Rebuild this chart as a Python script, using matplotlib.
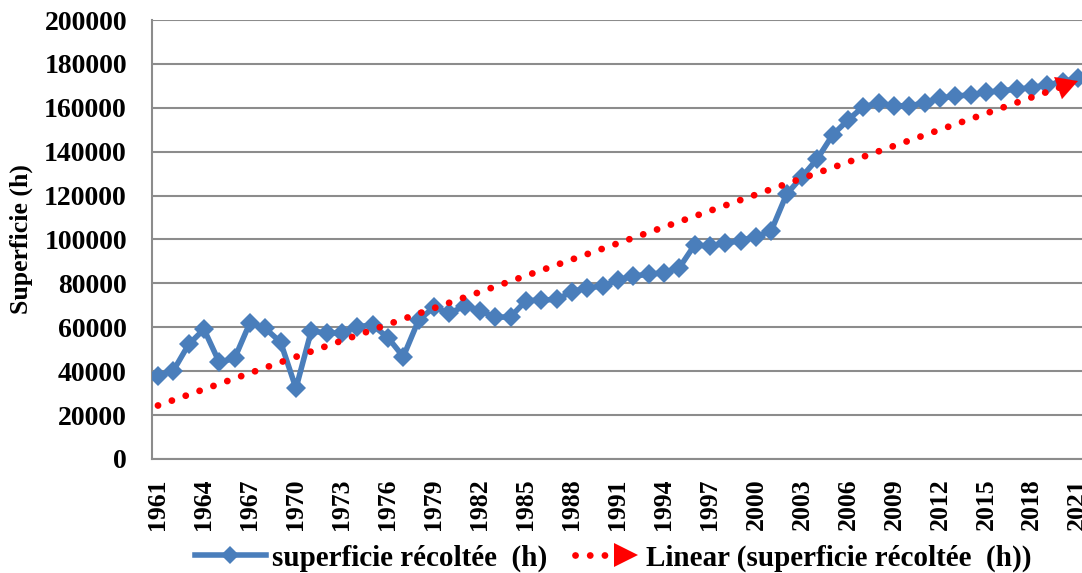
import numpy as np
import matplotlib.pyplot as plt
from matplotlib.lines import Line2D
from matplotlib.legend_handler import HandlerBase

years = list(range(1961, 2022))
superficie = [
    37800, 40200, 52200, 59100, 44000, 45900, 62100, 59500, 53200, 32200,
    58400, 57300, 57500, 60300, 61000, 55300, 46600, 63300, 69100, 66400,
    69700, 67600, 64500, 64800, 72100, 72400, 72700, 76200, 78000, 78800,
    81500, 83400, 84100, 84900, 87100, 97500, 97000, 98300, 99500, 101300,
    104000, 120600, 128600, 136700, 147600, 154400, 160500, 162000, 161000, 160800,
    162300, 164300, 165400, 165800, 167000, 167800, 168400, 169200, 170400, 171900,
    173400,
]
tick_years = list(range(1961, 2022, 3))
y_ticks = list(range(0, 200001, 20000))

blue = '#4a7ebb'
grid_gray = '#8c8c8c'
dot_style = (0, (0.01, 2.15))

plt.rcParams['font.family'] = ['Liberation Serif', 'DejaVu Serif']
plt.rcParams['font.weight'] = 'bold'

fig = plt.figure(figsize=(10.82, 5.73), dpi=100)
ax = fig.add_axes([152 / 1082, 114 / 573, 932 / 1082, 439 / 573])

ax.plot(years, superficie, color=blue, lw=4, marker='D', markersize=10.5,
        markeredgewidth=0, zorder=3)

# linear trend (least squares on the series)
slope, intercept = np.polyfit(years, superficie, 1)
x0, x1 = years[0], years[-1]
x_base = x1 - 1.0
ax.plot([x0, x_base], [slope * x0 + intercept, slope * x_base + intercept],
        color='red', lw=4.9, linestyle=dot_style,
        dash_capstyle='round', zorder=4)
ax.annotate('', xy=(x1, slope * x1 + intercept),
            xytext=(x_base, slope * x_base + intercept),
            arrowprops=dict(arrowstyle='-|>,head_length=0.75,head_width=0.42',
                            mutation_scale=20, color='red', lw=0.1,
                            shrinkA=0, shrinkB=0),
            zorder=5)

ax.set_xlim(1960.61, 2021.4)
ax.set_ylim(0, 200000)
ax.set_yticks(y_ticks)
ax.set_yticklabels([str(v) for v in y_ticks], fontsize=20, fontweight='bold')
ax.set_xticks(tick_years)
ax.set_xticklabels([str(v) for v in tick_years], rotation=90, fontsize=18.5,
                   fontweight='bold')
ax.tick_params(axis='both', length=0)
ax.tick_params(axis='y', pad=18)
ax.tick_params(axis='x', pad=14)
ax.grid(axis='y', color=grid_gray, lw=1.5)
ax.set_axisbelow(True)
for side in ['top', 'right']:
    ax.spines[side].set_visible(False)
for side in ['left', 'bottom']:
    ax.spines[side].set_color(grid_gray)
    ax.spines[side].set_linewidth(1.5)

ax.set_ylabel('Superficie (h)', fontsize=18.5, fontweight='bold')
ax.yaxis.set_label_coords(-0.1277, 0.5)


class TrendHandler(HandlerBase):
    def create_artists(self, legend, orig_handle, xdescent, ydescent,
                       width, height, fontsize, trans):
        y = height / 2 - ydescent
        dots = Line2D([-xdescent + 4, width * 0.55], [y, y], color='red',
                      lw=4.9, linestyle=dot_style, dash_capstyle='round',
                      transform=trans)
        head = Line2D([width * 0.8], [y], marker='>', markersize=17,
                      color='red', markeredgewidth=0, transform=trans)
        return [dots, head]


series_handle = Line2D([], [], color=blue, lw=4, marker='D', markersize=9.5,
                       markeredgewidth=0)
trend_handle = Line2D([], [])
ax.legend([series_handle, trend_handle],
          ['superficie récoltée  (h)', 'Linear (superficie récoltée  (h))'],
          handler_map={trend_handle: TrendHandler()},
          loc='center', bbox_to_anchor=(0.495, -0.2255), ncol=2, frameon=False,
          prop={'size': 21, 'weight': 'bold'}, handlelength=2.45,
          handletextpad=0.2, columnspacing=0.75, borderaxespad=0)

fig.savefig('out.png', dpi=100)
